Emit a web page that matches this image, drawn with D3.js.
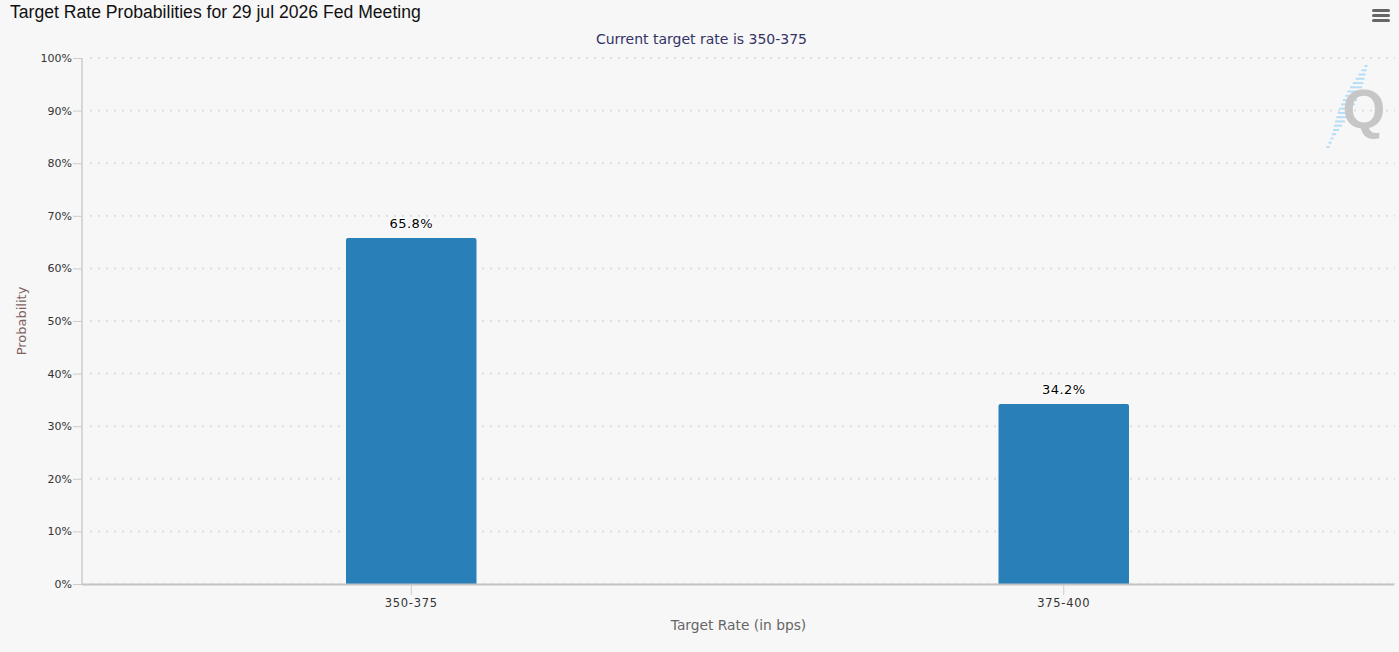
<!DOCTYPE html>
<html>
<head>
<meta charset="utf-8">
<script src="https://cdn.jsdelivr.net/npm/d3@7"></script>
<style>
  html, body { margin: 0; padding: 0; background: #f7f7f7; }
  svg { display: block; }
</style>
</head>
<body>
<div id="chart"></div>
<script>
// chart data
var categories = ["350-375", "375-400"];
var probabilities = [65.8, 34.2];
var yTicks = [0, 10, 20, 30, 40, 50, 60, 70, 80, 90, 100];
var titleText = "Target Rate Probabilities for 29 jul 2026 Fed Meeting";
var subtitleText = "Current target rate is 350-375";

var width = 1399, height = 652;
var margin = {top: 58, right: 4, bottom: 68, left: 82};
var plotW = width - margin.left - margin.right;
var plotH = height - margin.top - margin.bottom;
var labelFont = "'DejaVu Sans', Verdana, sans-serif";

var svg = d3.select("#chart").append("svg")
    .attr("width", width)
    .attr("height", height);

svg.append("rect")
    .attr("width", width)
    .attr("height", height)
    .attr("fill", "#f7f7f7");

// title + subtitle
svg.append("text")
    .attr("x", 10)
    .attr("y", 18)
    .attr("font-family", "'Liberation Sans', Arial, sans-serif")
    .attr("font-size", 17.6)
    .attr("fill", "#111")
    .text(titleText);

svg.append("text")
    .attr("x", width / 2 + 2)
    .attr("y", 44)
    .attr("text-anchor", "middle")
    .attr("font-family", labelFont)
    .attr("font-size", 14)
    .attr("fill", "#333366")
    .text(subtitleText);

// menu icon
var menu = svg.append("g").attr("transform", "translate(1372,9)");
[0, 5, 10].forEach(function(dy) {
    menu.append("rect")
        .attr("x", 0).attr("y", dy)
        .attr("width", 18).attr("height", 3)
        .attr("rx", 1.5)
        .attr("fill", "#666");
});

var g = svg.append("g")
    .attr("transform", "translate(" + margin.left + "," + margin.top + ")");

var x = d3.scaleBand()
    .domain(categories)
    .range([3, plotW - 5])
    .paddingInner(0)
    .paddingOuter(0);

var y = d3.scaleLinear()
    .domain([0, 100])
    .range([plotH, 0]);

// watermark logo (decoration)
var logo = svg.append("g");
var nStripes = 20;
for (var i = 0; i < nStripes; i++) {
    var t = i / (nStripes - 1);
    var cy = 66 + t * 81;
    var cx = 1366 - t * 38;
    var len = 3 + 11 * Math.sin(Math.PI * Math.min(1, t * 1.15));
    logo.append("line")
        .attr("x1", cx - len / 2)
        .attr("x2", cx + len / 2)
        .attr("y1", cy)
        .attr("y2", cy)
        .attr("stroke", "#b5def6")
        .attr("stroke-width", 2);
}
logo.append("text")
    .attr("x", 1364)
    .attr("y", 128)
    .attr("text-anchor", "middle")
    .attr("font-family", "'Liberation Sans', Arial, sans-serif")
    .attr("font-weight", "bold")
    .attr("font-size", 55)
    .attr("fill", "#c6c6c6")
    .text("Q");

// gridlines
g.append("g")
    .selectAll("line")
    .data(yTicks)
    .enter().append("line")
    .attr("x1", 8)
    .attr("x2", plotW)
    .attr("y1", function(d) { return y(d); })
    .attr("y2", function(d) { return y(d); })
    .attr("stroke", "#dedede")
    .attr("stroke-width", 2)
    .attr("stroke-dasharray", "2,6");

// bars
var barW = x.bandwidth() * 0.2;
g.selectAll(".bar")
    .data(probabilities)
    .enter().append("path")
    .attr("class", "bar")
    .attr("fill", "#2980b9")
    .attr("d", function(d, i) {
        var x0 = x(categories[i]) + x.bandwidth() / 2 - barW / 2;
        var y0 = y(d), r = 2;
        return "M" + x0 + "," + plotH +
            "V" + (y0 + r) +
            "Q" + x0 + "," + y0 + " " + (x0 + r) + "," + y0 +
            "H" + (x0 + barW - r) +
            "Q" + (x0 + barW) + "," + y0 + " " + (x0 + barW) + "," + (y0 + r) +
            "V" + plotH + "Z";
    });

// data labels
g.selectAll(".lbl")
    .data(probabilities)
    .enter().append("text")
    .attr("class", "lbl")
    .attr("x", function(d, i) { return x(categories[i]) + x.bandwidth() / 2; })
    .attr("y", function(d) { return y(d) - 10; })
    .attr("text-anchor", "middle")
    .attr("font-family", labelFont)
    .attr("font-size", 13)
    .attr("letter-spacing", 0.4)
    .attr("fill", "#000")
    .attr("stroke", "#fff")
    .attr("stroke-width", 2)
    .attr("paint-order", "stroke")
    .text(function(d) { return d.toFixed(1) + "%"; });

// y axis
var yAxis = d3.axisLeft(y)
    .tickValues(yTicks)
    .tickSize(9)
    .tickPadding(1)
    .tickFormat(function(d) { return d + "%"; });

var yG = g.append("g").call(yAxis);
yG.select(".domain").remove();
yG.selectAll(".tick line").attr("stroke", "#ccc");
yG.selectAll(".tick text")
    .attr("font-family", labelFont)
    .attr("font-size", 11)
    .attr("fill", "#333");
g.append("line")
    .attr("x1", 0).attr("x2", 0)
    .attr("y1", 0).attr("y2", plotH)
    .attr("stroke", "#ccc")
    .attr("stroke-width", 1.5);

// x axis
var xAxis = d3.axisBottom(x)
    .tickSize(11)
    .tickPadding(4);
var xG = g.append("g")
    .attr("transform", "translate(0," + plotH + ")")
    .call(xAxis);
xG.select(".domain").remove();
xG.selectAll(".tick line").attr("stroke", "#ccc");
xG.selectAll(".tick text")
    .attr("font-family", labelFont)
    .attr("font-size", 11.5)
    .attr("letter-spacing", 0.7)
    .attr("fill", "#333");
g.append("line")
    .attr("x1", 0).attr("x2", plotW - 1)
    .attr("y1", plotH + 0.5).attr("y2", plotH + 0.5)
    .attr("stroke", "#c4c4c4")
    .attr("stroke-width", 2);

// axis titles
svg.append("text")
    .attr("x", margin.left + plotW / 2)
    .attr("y", 630)
    .attr("text-anchor", "middle")
    .attr("font-family", labelFont)
    .attr("font-size", 13.8)
    .attr("fill", "#666")
    .text("Target Rate (in bps)");

svg.append("text")
    .attr("transform", "translate(26," + (margin.top + plotH / 2) + ") rotate(-90)")
    .attr("text-anchor", "middle")
    .attr("font-family", labelFont)
    .attr("font-size", 13)
    .attr("fill", "#806060")
    .text("Probability");
</script>
</body>
</html>
